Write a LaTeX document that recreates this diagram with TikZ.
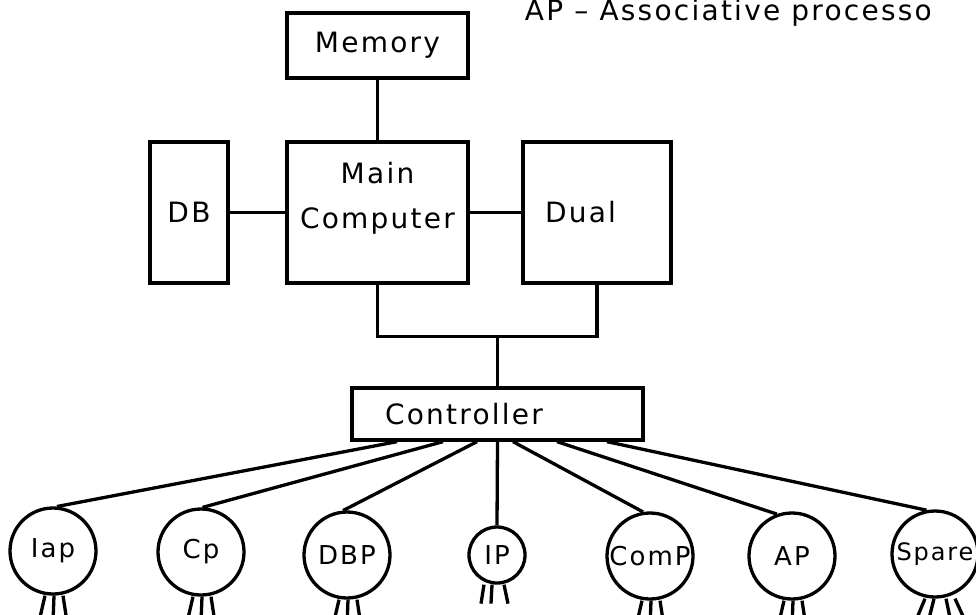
\documentclass[tikz,border=0pt]{standalone}
\usepackage{fontspec}
\setmainfont{DejaVu Sans}[LetterSpace=8]
\usepackage{tikz}
\usetikzlibrary{calc}

\tikzset{
    block/.style={draw, rectangle, inner sep=0pt},
    proc/.style={draw, circle, inner sep=0pt, minimum size=86pt, font=\fontsize{26}{30}\selectfont},
}

\begin{document}
\begin{tikzpicture}[x=1pt, y=-1pt, line width=3.3pt, font=\fontsize{28}{32}\selectfont]
            \useasboundingbox (0,0) rectangle (976,614);
            \node[anchor=base west] (note) at (520,20) {AP -- Associative processo};

            % host side
            \node[block, minimum width=181pt, minimum height=65pt] (mem) at (377.5,45.5) {Memory};
            \node[block, minimum width=181pt, minimum height=141pt,
                label={[yshift=14pt, align=center, font=\fontsize{28}{45}\selectfont]center:Main\\Computer}] (main) at (377.5,212.5) {};
            \node[block, minimum width=78pt, minimum height=141pt] (db) at (189,212.5) {DB};
            \node[block, minimum width=148pt, minimum height=141pt, inner xsep=22pt, text width=104pt, align=left] (dual) at (597,212.5) {Dual};
            \node[block, minimum width=291pt, minimum height=52pt, inner xsep=33pt, text width=225pt, align=left] (ctrl) at (497.5,414) {Controller};

            \draw (mem) -- (main);
            \draw (db) -- (main);
            \draw (main) -- (dual);
            \draw (main.south) -- ++(0,52) coordinate (bus) -| (dual.south);
            \draw (ctrl.north) -- (ctrl.north |- bus);

            % processors
            \node[proc] (iap) at (53,551) {Iap};
            \node[proc] (cp) at (201,552) {Cp};
            \node[proc] (dbp) at (347,555) {DBP};
            \node[proc, minimum size=56pt] (ip) at (497,555) {IP};
            \node[proc] (comp) at (650,556) {ComP};
            \node[proc] (ap) at (792,556) {AP};
            \node[proc, font=\fontsize{24}{30}\selectfont] (spare) at (935,554) {Spare};

            \draw ([xshift=-100.5pt]ctrl.south) -- (iap.85);
            \draw ([xshift=-54.5pt]ctrl.south) -- (cp.88);
            \draw ([xshift=-20.5pt]ctrl.south) -- (dbp.95);
            \draw (ctrl.south) -- (ip.north);
            \draw ([xshift=15.5pt]ctrl.south) -- (comp.99);
            \draw ([xshift=59.5pt]ctrl.south) -- (ap.110);
            \draw ([xshift=109.5pt]ctrl.south) -- (spare.101);

            % legs
            \foreach \n in {iap,cp,dbp,comp,ap}{
                \draw ([xshift=-8pt]\n.south) -- ++(-6,26);
                \draw ([xshift=1pt]\n.south) -- ++(-1,26);
                \draw ([xshift=10pt]\n.south) -- ++(4,26);
            }
            \draw ([xshift=-13pt]ip.south) -- ++(-3,19);
            \draw ([xshift=-5pt]ip.south) -- ++(-1,19);
            \draw ([xshift=7pt]ip.south) -- ++(4,19);
            \draw ([xshift=-10pt]spare.south) -- ++(-10,24);
            \draw ([xshift=-1pt]spare.south) -- ++(-6,24);
            \draw ([xshift=11pt]spare.south) -- ++(5,24);
            \draw ([xshift=20pt]spare.south) -- ++(11,24);
        \end{tikzpicture}
\end{document}
